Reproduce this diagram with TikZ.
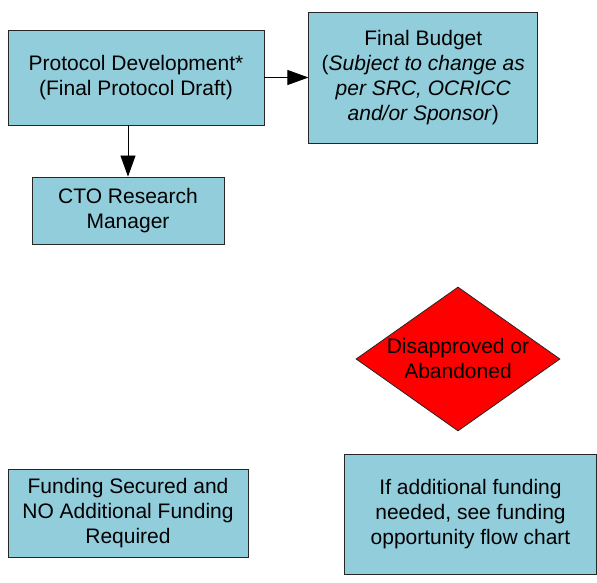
\documentclass[tikz,border=0pt]{standalone}
\usepackage{fontspec}
\setmainfont{Liberation Sans}
\usetikzlibrary{positioning,arrows.meta,shapes.geometric}
\definecolor{boxblue}{RGB}{146,205,220}
\tikzset{
  >={Triangle[length=21pt,width=15pt]},
  pbox/.style={draw=black!85,fill=boxblue,line width=0.8pt,align=center,
    inner sep=2pt,font=\fontsize{21}{25}\selectfont},
  decbox/.style={diamond,draw=black!85,fill=red,line width=0.8pt,inner sep=0pt,
    minimum width=204pt,minimum height=144pt},
  dtext/.style={align=center,inner sep=0pt,font=\fontsize{21}{25}\selectfont},
  flow/.style={->,line width=0.8pt},
}
\begin{document}
\begin{tikzpicture}[x=1pt,y=1pt]
  \useasboundingbox (0,0) rectangle (597,582);
  \node[pbox,minimum width=256pt,minimum height=95pt] (proto) at (136,504.5)
    {Protocol Development*\\(Final Protocol Draft)};
  \node[pbox,minimum width=229pt,minimum height=131pt,right=44pt of proto] (budget)
    {Final Budget\\(\textit{Subject to change as}\\\textit{per SRC, OCRICC}\\\textit{and/or Sponsor})};
  \node[pbox,minimum width=192pt,minimum height=67pt] (cto) at (128,371.5)
    {CTO Research\\Manager};
  \node[decbox] (disap) at (458,223) {};
  \node[dtext] (disaplbl) at (458,224) {Disapproved or\\Abandoned};
  \node[pbox,minimum width=240pt,minimum height=88pt] (secured) at (128,69)
    {Funding Secured and\\NO Additional Funding\\Required};
  \node[pbox,minimum width=252pt,minimum height=120pt] (extra) at (470.5,68)
    {If additional funding\\needed, see funding\\opportunity flow chart};
  \draw[flow] (proto) -- (budget);
  \draw[flow] (cto.north |- proto.south) -- (cto);
\end{tikzpicture}
\end{document}
